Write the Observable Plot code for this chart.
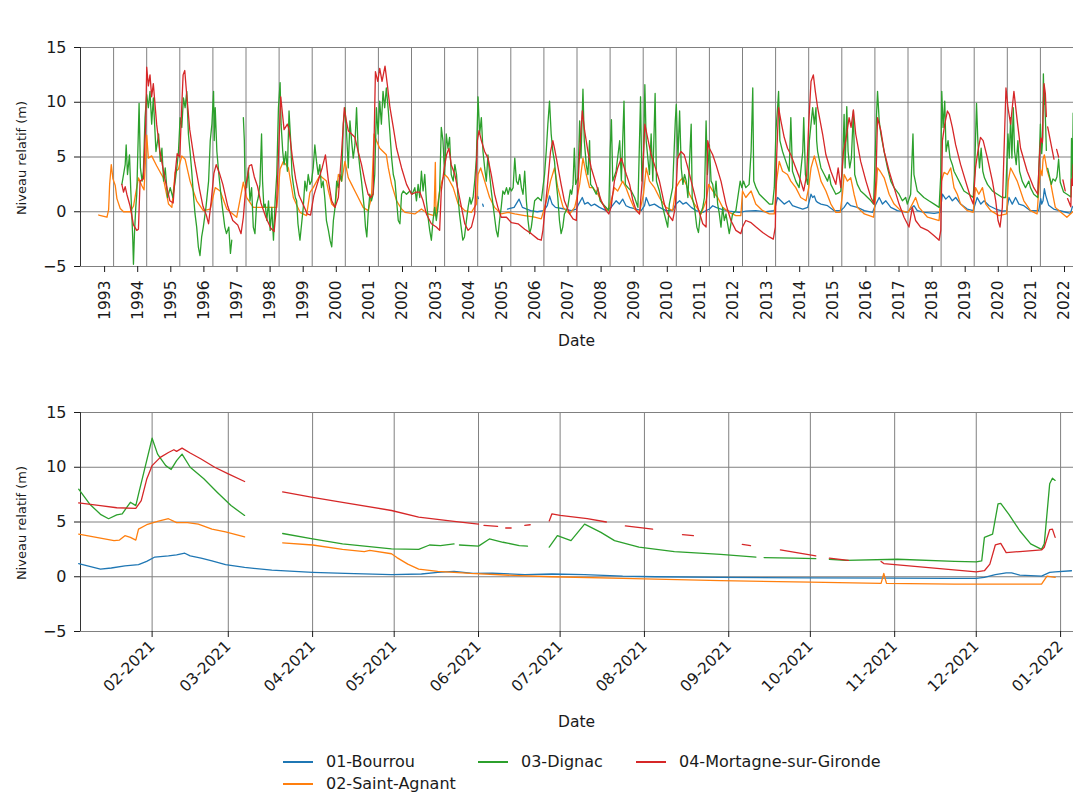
<!DOCTYPE html>
<html><head><meta charset="utf-8">
<script src="https://cdn.jsdelivr.net/npm/d3@7"></script>
<script src="https://cdn.jsdelivr.net/npm/@observablehq/plot@0.6"></script>
<style>
body{margin:0;background:#fff;overflow:hidden;font-family:"DejaVu Sans",sans-serif;color:#1a1a1a;}
#page{position:relative;width:1073px;height:794px;overflow:hidden;background:#fff;}
.abs{position:absolute;}
.title{position:absolute;left:80px;width:993px;text-align:center;font-size:20px;line-height:24px;}
.xlab{position:absolute;left:80px;width:993px;text-align:center;font-size:15.5px;line-height:18px;}
.ylab{position:absolute;font-size:13px;white-space:nowrap;transform:translate(-50%,-50%) rotate(-90deg);}
.leg{position:absolute;font-size:16px;line-height:18px;white-space:nowrap;}
.legline{position:absolute;width:30px;height:1.5px;}
</style>
</head><body>
<div id="page">
  <div class="title" style="top:10px">Chroniques des 30 dernières années</div>
  <div class="abs" id="top" style="left:0;top:0;width:1073px;height:345px;overflow:hidden"></div>
  <div class="xlab" style="top:332px">Date</div>
  <div class="ylab" style="left:21px;top:158px">Niveau relatif (m)</div>
  <div class="title" style="top:376px">Chroniques de la dernière année</div>
  <div class="abs" id="bottom" style="left:0;top:365px;width:1073px;height:345px;overflow:hidden"></div>
  <div class="xlab" style="top:713px">Date</div>
  <div class="ylab" style="left:21px;top:523px">Niveau relatif (m)</div>
  <div id="legend"></div>
</div>
<script>
const seriesNames = ["01-Bourrou", "02-Saint-Agnant", "03-Dignac", "04-Mortagne-sur-Gironde"];
const seriesColors = ["#1f77b4", "#ff7f0e", "#2ca02c", "#d62728"];
const yTicks = [-5, 0, 5, 10, 15];
const yearTicks = [1993,1994,1995,1996,1997,1998,1999,2000,2001,2002,2003,2004,2005,2006,2007,2008,2009,2010,2011,2012,2013,2014,2015,2016,2017,2018,2019,2020,2021,2022];
const monthTicks = ["2021-02-01","2021-03-01","2021-04-01","2021-05-01","2021-06-01","2021-07-01","2021-08-01","2021-09-01","2021-10-01","2021-11-01","2021-12-01","2022-01-01"];

// ---- 30 years: [decimal year, level (m)] ----
const bourrou30 = [[2004.0,1.4],[2004.02,1.2],[2004.03,null],[2004.15,0.7],[2004.17,0.5],[2004.18,null],
[2004.9,0.25],[2005.1,0.4],[2005.25,1.15],[2005.35,0.4],[2005.6,0.1],[2005.8,0.0],[2006.0,0.1],[2006.1,0.55],[2006.17,1.45],[2006.25,0.7],[2006.35,0.4],[2006.62,0.25],[2006.83,0.1],[2006.98,0.25],[2007.05,0.7],[2007.16,1.3],[2007.23,0.7],[2007.33,0.85],[2007.43,0.55],[2007.53,0.7],[2007.68,0.4],[2007.88,0.1],[2008.03,0.4],[2008.18,1.0],[2008.28,0.7],[2008.38,1.15],[2008.48,0.55],[2008.59,0.4],[2008.79,0.25],[2008.94,0.1],[2009.04,0.55],[2009.09,1.3],[2009.19,0.55],[2009.34,0.7],[2009.49,0.4],[2009.69,0.1],[2009.89,0.1],[2009.99,0.7],[2010.1,1.0],[2010.2,0.7],[2010.3,0.85],[2010.45,0.4],[2010.6,0.1],[2010.8,-0.05],[2011.0,0.25],[2011.1,0.55],[2011.2,0.4],[2011.35,0.25],[2011.6,0.05],[2011.9,-0.05],[2012.1,0.05],[2012.4,0.1],[2012.71,0.0],[2012.96,0.1],[2013.06,1.3],[2013.16,1.0],[2013.26,0.7],[2013.41,1.0],[2013.51,0.55],[2013.66,0.4],[2013.82,0.25],[2013.97,0.4],[2014.07,1.6],[2014.12,1.3],[2014.17,1.45],[2014.22,1.0],[2014.27,0.85],[2014.37,0.7],[2014.57,0.55],[2014.77,0.1],[2014.97,0.1],[2015.07,0.4],[2015.17,0.85],[2015.27,0.55],[2015.47,0.4],[2015.68,0.1],[2015.93,-0.05],[2016.03,0.7],[2016.13,1.3],[2016.23,0.7],[2016.33,1.0],[2016.48,0.4],[2016.68,0.1],[2016.98,-0.05],[2017.18,0.55],[2017.28,0.1],[2017.49,-0.05],[2017.79,-0.15],[2017.97,-0.05],[2018.04,1.6],[2018.14,1.15],[2018.24,1.45],[2018.34,1.0],[2018.44,1.3],[2018.59,0.7],[2018.79,0.25],[2018.97,0.1],[2019.09,1.3],[2019.2,0.7],[2019.3,1.0],[2019.45,0.55],[2019.65,0.25],[2019.85,0.05],[2019.98,0.1],[2020.05,1.3],[2020.15,0.7],[2020.25,1.3],[2020.35,0.7],[2020.5,0.55],[2020.7,0.1],[2020.95,0.1],[2021.01,1.2],[2021.04,0.7],[2021.08,1.0],[2021.12,2.1],[2021.16,1.5],[2021.25,0.6],[2021.4,0.25],[2021.71,0.0],[2021.91,-0.15],[2021.96,0.4],[2021.99,0.5]];

const saintAgnant30 = [[1992.55,-0.3],[1992.8,-0.5],[1992.85,0.2],[1992.88,2.5],[1992.93,4.3],[1992.98,3.0],[1993.05,2.4],[1993.1,1.2],[1993.2,0.3],[1993.3,0.0],[1993.5,0.0],[1993.6,0.5],[1993.75,3.1],[1993.85,2.4],[1993.92,2.0],[1994.0,7.0],[1994.05,4.9],[1994.15,5.1],[1994.3,4.2],[1994.5,3.1],[1994.66,0.7],[1994.76,0.4],[1994.86,3.6],[1994.96,3.9],[1995.06,5.1],[1995.16,4.8],[1995.31,2.8],[1995.51,1.0],[1995.71,0.1],[1995.92,0.25],[1996.07,2.2],[1996.22,1.9],[1996.42,0.25],[1996.72,-0.5],[1996.92,2.7],[1997.02,1.3],[1997.22,0.4],[1997.63,0.4],[1997.93,0.4],[1998.03,3.9],[1998.13,4.6],[1998.28,4.0],[1998.43,1.3],[1998.63,-0.05],[1998.83,-0.35],[1998.93,1.75],[1999.03,2.2],[1999.23,3.3],[1999.43,2.8],[1999.49,1.9],[1999.59,0.7],[1999.69,0.4],[1999.79,3.4],[1999.89,2.8],[1999.99,4.6],[2000.09,3.1],[2000.19,2.5],[2000.29,1.9],[2000.39,1.3],[2000.54,0.4],[2000.69,0.1],[2000.79,1.3],[2000.87,7.1],[2000.94,6.5],[2001.04,5.8],[2001.14,5.5],[2001.24,5.2],[2001.3,4.0],[2001.4,2.5],[2001.55,1.0],[2001.7,0.25],[2001.8,-0.05],[2002.1,-0.2],[2002.3,0.25],[2002.5,-0.2],[2002.68,-0.35],[2002.72,4.5],[2002.74,-0.3],[2002.78,0.4],[2002.85,1.9],[2002.92,2.8],[2003.0,3.4],[2003.1,3.1],[2003.26,2.2],[2003.41,0.7],[2003.61,0.1],[2003.81,-0.05],[2003.96,0.7],[2004.01,3.4],[2004.09,4.0],[2004.21,2.8],[2004.36,1.3],[2004.51,0.4],[2004.71,-0.2],[2004.92,-0.05],[2005.12,-0.2],[2005.42,-0.35],[2005.72,-0.5],[2005.92,-0.65],[2006.02,0.4],[2006.1,1.3],[2006.2,2.8],[2006.32,4.0],[2006.42,2.2],[2006.58,0.4],[2006.78,-0.2],[2006.93,0.4],[2007.0,1.3],[2007.08,2.5],[2007.18,4.9],[2007.28,3.4],[2007.38,2.2],[2007.48,2.2],[2007.63,1.6],[2007.78,0.7],[2007.93,0.1],[2008.03,1.0],[2008.13,2.2],[2008.23,1.9],[2008.38,2.8],[2008.48,2.2],[2008.59,1.3],[2008.74,0.25],[2008.89,-0.05],[2009.01,1.6],[2009.09,4.0],[2009.19,2.8],[2009.34,2.2],[2009.49,1.3],[2009.69,0.4],[2009.89,0.1],[2009.99,2.2],[2010.1,2.8],[2010.2,3.1],[2010.3,2.5],[2010.4,1.6],[2010.55,0.7],[2010.75,-0.2],[2010.9,1.0],[2010.98,2.5],[2011.1,1.9],[2011.25,1.3],[2011.4,0.4],[2011.6,-0.05],[2011.8,-0.35],[2011.95,-0.35],[2012.0,1.9],[2012.1,1.3],[2012.26,1.9],[2012.4,0.7],[2012.61,0.1],[2012.81,-0.2],[2012.96,-0.2],[2013.03,2.8],[2013.11,4.6],[2013.21,3.7],[2013.36,3.4],[2013.46,2.8],[2013.61,2.2],[2013.76,1.3],[2013.92,1.0],[2014.0,2.2],[2014.07,4.0],[2014.17,5.1],[2014.27,4.0],[2014.37,2.8],[2014.52,1.9],[2014.67,0.7],[2014.82,-0.05],[2014.95,-0.05],[2015.02,1.6],[2015.07,3.4],[2015.17,2.8],[2015.27,3.1],[2015.37,1.6],[2015.47,0.4],[2015.68,-0.2],[2015.96,-0.5],[2016.03,1.6],[2016.08,4.0],[2016.16,3.7],[2016.28,3.1],[2016.43,1.6],[2016.58,0.7],[2016.78,0.1],[2017.0,-0.05],[2017.13,0.7],[2017.23,1.3],[2017.33,0.4],[2017.59,-0.5],[2017.94,-0.8],[2018.01,2.8],[2018.09,3.6],[2018.19,3.4],[2018.29,4.0],[2018.39,2.2],[2018.49,1.6],[2018.59,0.7],[2018.79,0.1],[2018.97,-0.05],[2019.04,2.2],[2019.14,1.6],[2019.25,2.2],[2019.35,0.7],[2019.5,0.1],[2019.75,-0.35],[2019.98,-0.2],[2020.03,2.8],[2020.1,4.0],[2020.2,3.4],[2020.3,2.8],[2020.5,1.0],[2020.7,0.1],[2020.9,-0.2],[2020.95,2.0],[2021.0,3.9],[2021.05,3.3],[2021.08,4.8],[2021.12,5.2],[2021.2,3.8],[2021.3,2.8],[2021.38,1.5],[2021.45,0.4],[2021.6,0.0],[2021.8,-0.5],[2021.98,0.0]];

const dignac30 = [[1993.25,2.5],[1993.3,3.4],[1993.35,4.3],[1993.38,6.1],[1993.42,3.4],[1993.48,5.2],[1993.52,1.9],[1993.55,-0.2],[1993.58,-2.6],[1993.6,-4.8],[1993.63,-2.0],[1993.67,0.4],[1993.7,1.6],[1993.73,5.2],[1993.77,9.9],[1993.81,4.0],[1993.86,2.8],[1993.9,3.7],[1993.95,8.6],[1994.0,10.7],[1994.05,9.5],[1994.1,11.0],[1994.15,8.0],[1994.2,10.4],[1994.28,5.5],[1994.36,7.1],[1994.41,4.6],[1994.46,5.8],[1994.51,2.8],[1994.56,4.0],[1994.63,1.3],[1994.71,2.2],[1994.79,1.3],[1994.86,2.8],[1994.91,4.0],[1994.96,5.5],[1995.01,8.6],[1995.06,7.7],[1995.11,10.4],[1995.16,9.5],[1995.21,11.0],[1995.26,7.1],[1995.31,5.5],[1995.36,3.7],[1995.41,1.6],[1995.46,-0.2],[1995.51,-1.4],[1995.56,-3.2],[1995.61,-4.0],[1995.66,-2.3],[1995.71,-1.4],[1995.79,0.4],[1995.87,2.8],[1995.92,6.5],[1995.97,8.0],[1996.02,11.0],[1996.04,6.5],[1996.07,9.5],[1996.12,5.5],[1996.18,3.4],[1996.25,1.3],[1996.31,-0.2],[1996.36,-1.4],[1996.41,-2.0],[1996.48,-1.4],[1996.53,-3.8],[1996.57,-2.6],[1996.58,null],[1996.92,8.6],[1996.95,6.5],[1996.97,2.8],[1997.02,2.2],[1997.07,4.0],[1997.12,1.0],[1997.17,2.2],[1997.22,-1.4],[1997.27,-2.0],[1997.32,0.7],[1997.37,1.3],[1997.42,2.5],[1997.47,7.1],[1997.5,2.8],[1997.54,0.4],[1997.58,0.7],[1997.63,-0.8],[1997.68,1.0],[1997.73,-1.7],[1997.78,0.4],[1997.83,-2.6],[1997.88,1.0],[1997.93,3.4],[1997.98,9.5],[1998.03,11.8],[1998.06,8.0],[1998.11,5.5],[1998.15,4.3],[1998.2,5.5],[1998.25,3.7],[1998.3,9.2],[1998.35,6.5],[1998.39,3.4],[1998.43,2.5],[1998.49,1.3],[1998.53,1.0],[1998.57,-1.1],[1998.63,-2.6],[1998.68,-1.1],[1998.73,0.4],[1998.78,2.8],[1998.83,1.9],[1998.88,3.4],[1998.93,2.5],[1998.98,2.8],[1999.03,4.0],[1999.08,6.1],[1999.13,4.6],[1999.18,3.4],[1999.23,4.3],[1999.28,2.2],[1999.33,2.8],[1999.38,1.3],[1999.43,-0.8],[1999.49,-1.7],[1999.54,-2.6],[1999.59,-3.2],[1999.64,-0.8],[1999.69,0.4],[1999.74,2.8],[1999.79,2.2],[1999.84,3.4],[1999.89,2.8],[1999.94,8.0],[1999.99,9.5],[2000.04,7.1],[2000.09,4.0],[2000.14,8.3],[2000.19,6.5],[2000.24,4.9],[2000.29,6.1],[2000.34,9.5],[2000.39,5.5],[2000.44,4.0],[2000.49,2.8],[2000.54,1.3],[2000.57,0.4],[2000.61,-1.4],[2000.65,-2.3],[2000.69,-0.2],[2000.74,1.6],[2000.79,1.0],[2000.84,1.6],[2000.89,3.4],[2000.94,9.5],[2000.99,7.1],[2001.04,10.1],[2001.09,8.0],[2001.14,11.0],[2001.19,9.5],[2001.24,11.3],[2001.3,9.2],[2001.35,7.1],[2001.4,4.9],[2001.45,3.4],[2001.5,2.8],[2001.55,1.0],[2001.6,-0.8],[2001.65,-1.1],[2001.7,1.6],[2001.75,1.9],[2001.85,1.6],[2001.95,1.9],[2002.02,1.6],[2002.1,2.2],[2002.15,1.0],[2002.2,2.5],[2002.25,1.3],[2002.3,3.7],[2002.35,1.9],[2002.4,3.4],[2002.45,1.0],[2002.5,-0.5],[2002.55,-1.7],[2002.6,-2.6],[2002.65,-0.8],[2002.7,0.4],[2002.75,-0.8],[2002.8,0.4],[2002.85,1.9],[2002.9,7.7],[2002.95,6.5],[2003.0,3.4],[2003.05,7.1],[2003.1,5.8],[2003.15,6.8],[2003.2,3.4],[2003.26,2.8],[2003.31,4.3],[2003.36,3.4],[2003.4,1.6],[2003.45,-0.2],[2003.5,-1.4],[2003.55,-2.6],[2003.6,-2.3],[2003.66,-0.8],[2003.71,0.4],[2003.76,1.3],[2003.8,0.7],[2003.86,1.3],[2003.91,2.8],[2003.96,4.9],[2004.01,10.5],[2004.06,7.1],[2004.11,8.6],[2004.16,5.5],[2004.21,4.0],[2004.26,2.8],[2004.31,5.2],[2004.36,3.4],[2004.41,1.9],[2004.46,0.7],[2004.51,-0.5],[2004.56,-1.7],[2004.61,-2.3],[2004.66,-0.8],[2004.71,0.4],[2004.76,1.9],[2004.81,1.6],[2004.87,2.2],[2004.92,1.6],[2004.97,2.2],[2005.02,1.9],[2005.07,2.2],[2005.12,4.9],[2005.17,2.8],[2005.22,2.5],[2005.27,3.4],[2005.32,2.2],[2005.37,1.6],[2005.42,3.7],[2005.47,1.0],[2005.52,-0.8],[2005.57,-2.0],[2005.62,-1.4],[2005.67,-0.2],[2005.72,1.0],[2005.82,1.3],[2005.92,1.0],[2005.97,2.2],[2006.02,3.4],[2006.07,5.5],[2006.12,8.0],[2006.17,10.1],[2006.22,7.1],[2006.27,5.5],[2006.32,4.6],[2006.37,2.8],[2006.42,1.3],[2006.47,-0.8],[2006.52,-2.0],[2006.57,-1.4],[2006.62,-0.2],[2006.72,0.4],[2006.8,2.0],[2006.84,1.6],[2006.88,2.5],[2006.92,5.8],[2006.96,2.5],[2007.03,3.1],[2007.08,8.3],[2007.12,4.9],[2007.18,11.2],[2007.22,6.5],[2007.28,4.3],[2007.33,3.4],[2007.38,6.5],[2007.41,2.5],[2007.48,2.2],[2007.58,1.6],[2007.63,2.2],[2007.7,1.0],[2007.78,0.7],[2007.88,0.4],[2007.96,0.1],[2008.0,5.5],[2008.04,8.4],[2008.08,2.8],[2008.18,3.7],[2008.29,6.5],[2008.34,2.8],[2008.42,10.1],[2008.46,2.5],[2008.54,2.2],[2008.64,1.9],[2008.74,1.3],[2008.84,0.4],[2008.92,10.5],[2008.96,2.8],[2009.01,4.9],[2009.05,11.6],[2009.09,6.5],[2009.14,4.9],[2009.19,3.4],[2009.24,7.1],[2009.29,2.8],[2009.36,10.8],[2009.4,2.8],[2009.49,1.9],[2009.59,0.4],[2009.69,-0.8],[2009.74,-1.4],[2009.79,0.7],[2009.89,2.2],[2009.97,8.3],[2010.0,9.8],[2010.05,4.9],[2010.1,9.2],[2010.15,4.0],[2010.2,2.5],[2010.25,3.4],[2010.3,2.8],[2010.35,1.3],[2010.45,8.0],[2010.48,1.3],[2010.55,0.4],[2010.62,-1.4],[2010.67,-1.9],[2010.73,-0.2],[2010.8,0.4],[2010.85,1.3],[2010.9,8.3],[2010.94,3.4],[2011.0,6.1],[2011.05,2.8],[2011.1,2.5],[2011.15,1.3],[2011.2,2.8],[2011.25,0.7],[2011.3,-0.2],[2011.35,-1.4],[2011.4,0.4],[2011.45,-0.8],[2011.5,-0.2],[2011.55,-1.1],[2011.6,-2.0],[2011.7,-0.2],[2011.8,0.1],[2011.93,2.8],[2011.98,2.2],[2012.03,2.8],[2012.1,2.2],[2012.2,2.5],[2012.26,5.5],[2012.31,11.3],[2012.34,2.8],[2012.41,2.2],[2012.51,1.6],[2012.61,1.3],[2012.71,1.0],[2012.81,0.7],[2012.91,0.7],[2012.96,2.2],[2013.01,7.4],[2013.06,9.5],[2013.09,11.0],[2013.13,6.5],[2013.21,5.5],[2013.31,4.6],[2013.41,3.7],[2013.46,8.6],[2013.51,3.7],[2013.61,2.8],[2013.71,2.2],[2013.82,5.5],[2013.85,8.6],[2013.9,3.4],[2013.97,2.5],[2014.02,6.5],[2014.07,8.0],[2014.12,9.5],[2014.17,8.0],[2014.22,9.5],[2014.24,6.5],[2014.27,5.5],[2014.37,4.0],[2014.47,3.4],[2014.57,2.8],[2014.62,3.4],[2014.67,2.5],[2014.77,1.9],[2014.82,1.6],[2014.92,1.75],[2014.97,1.9],[2015.02,4.0],[2015.07,8.9],[2015.1,4.0],[2015.15,9.6],[2015.19,5.5],[2015.24,4.0],[2015.29,4.9],[2015.35,9.2],[2015.39,3.4],[2015.47,2.5],[2015.57,1.9],[2015.68,1.6],[2015.78,1.3],[2015.88,1.0],[2015.96,0.7],[2016.01,5.2],[2016.05,8.9],[2016.08,11.0],[2016.13,8.3],[2016.18,7.1],[2016.28,5.5],[2016.38,4.0],[2016.48,2.8],[2016.58,2.2],[2016.73,1.6],[2016.83,1.0],[2016.93,1.3],[2016.98,0.7],[2017.08,1.6],[2017.15,7.1],[2017.18,3.4],[2017.28,1.9],[2017.38,1.6],[2017.48,1.3],[2017.63,1.0],[2017.79,0.7],[2017.94,0.4],[2017.99,3.4],[2018.02,11.0],[2018.06,7.7],[2018.11,10.1],[2018.15,5.5],[2018.21,6.5],[2018.27,4.9],[2018.34,4.3],[2018.39,3.7],[2018.49,3.1],[2018.59,2.5],[2018.69,1.9],[2018.84,1.6],[2018.97,1.3],[2019.01,3.4],[2019.07,9.9],[2019.11,6.5],[2019.16,4.0],[2019.21,5.8],[2019.26,3.7],[2019.31,3.1],[2019.4,2.5],[2019.55,1.9],[2019.7,1.6],[2019.85,1.3],[2019.95,1.3],[2019.98,4.0],[2020.02,7.1],[2020.06,4.9],[2020.1,8.6],[2020.14,4.9],[2020.18,9.5],[2020.22,5.5],[2020.27,4.3],[2020.32,6.5],[2020.37,3.7],[2020.45,2.8],[2020.55,2.2],[2020.65,2.8],[2020.7,2.2],[2020.8,1.6],[2020.92,1.3],[2020.97,5.2],[2021.0,8.0],[2021.04,5.3],[2021.07,6.8],[2021.09,12.6],[2021.11,9.8],[2021.12,11.2],[2021.16,7.7],[2021.18,5.6],[2021.19,null],[2021.22,3.95],[2021.33,2.5],[2021.38,3.0],[2021.45,2.8],[2021.5,3.2],[2021.55,4.8],[2021.6,2.7],[2021.7,1.8],[2021.85,1.5],[2021.92,1.35],[2021.94,6.7],[2021.97,3.0],[2021.99,9.0]];

const mortagne30 = [[1993.25,2.5],[1993.3,1.8],[1993.35,2.3],[1993.4,1.6],[1993.5,0.5],[1993.6,-1.2],[1993.7,-1.7],[1993.75,-1.6],[1993.8,2.8],[1993.9,3.0],[1993.97,8.0],[1994.0,13.2],[1994.05,11.5],[1994.1,12.5],[1994.15,10.5],[1994.2,11.7],[1994.3,8.0],[1994.4,5.5],[1994.55,3.0],[1994.7,1.0],[1994.8,0.8],[1994.86,3.5],[1994.92,5.3],[1995.0,5.0],[1995.05,9.0],[1995.1,12.5],[1995.15,12.9],[1995.2,11.0],[1995.3,7.5],[1995.45,4.5],[1995.6,2.0],[1995.7,0.5],[1995.8,-0.3],[1995.87,-1.1],[1995.95,1.0],[1996.03,3.5],[1996.1,4.3],[1996.2,3.5],[1996.3,2.5],[1996.45,0.5],[1996.6,-0.8],[1996.75,-1.2],[1996.85,-2.0],[1996.92,-0.5],[1997.0,2.5],[1997.1,4.2],[1997.17,4.3],[1997.25,3.2],[1997.35,2.3],[1997.45,0.8],[1997.6,-0.5],[1997.75,-1.5],[1997.85,-1.8],[1997.92,0.5],[1997.98,5.0],[1998.05,10.5],[1998.1,9.0],[1998.15,7.5],[1998.25,8.0],[1998.3,7.5],[1998.4,5.0],[1998.5,3.0],[1998.6,1.5],[1998.75,0.5],[1998.85,-0.2],[1998.95,-0.3],[1999.05,1.5],[1999.15,2.5],[1999.3,4.0],[1999.4,5.2],[1999.49,2.8],[1999.59,1.0],[1999.69,0.4],[1999.79,1.3],[1999.89,5.5],[1999.97,9.5],[2000.03,8.3],[2000.09,7.4],[2000.19,7.1],[2000.29,6.8],[2000.39,5.5],[2000.49,4.3],[2000.59,2.8],[2000.69,1.6],[2000.77,1.3],[2000.84,1.6],[2000.87,6.5],[2000.91,12.8],[2000.98,11.9],[2001.04,13.1],[2001.11,11.9],[2001.2,13.3],[2001.27,11.6],[2001.35,9.5],[2001.45,7.7],[2001.55,5.8],[2001.7,4.0],[2001.85,2.5],[2002.0,1.6],[2002.15,1.8],[2002.25,1.8],[2002.35,1.0],[2002.45,-0.2],[2002.6,-1.1],[2002.75,-1.4],[2002.85,-1.7],[2002.9,1.9],[2002.99,4.0],[2003.06,5.2],[2003.13,5.8],[2003.2,4.3],[2003.31,3.4],[2003.41,1.9],[2003.51,0.4],[2003.61,-1.1],[2003.71,-1.7],[2003.81,-1.4],[2003.91,-0.2],[2003.99,6.5],[2004.04,7.4],[2004.11,6.5],[2004.21,5.5],[2004.31,4.9],[2004.41,3.4],[2004.51,1.6],[2004.61,0.4],[2004.71,-0.5],[2004.87,-0.5],[2005.02,-1.0],[2005.22,-1.1],[2005.42,-1.6],[2005.62,-2.0],[2005.82,-2.5],[2005.92,-2.6],[2005.97,-1.7],[2006.02,-0.2],[2006.12,2.8],[2006.2,5.5],[2006.27,6.5],[2006.32,5.8],[2006.43,4.0],[2006.52,2.5],[2006.62,1.0],[2006.78,-0.2],[2006.88,-0.65],[2006.98,-0.8],[2007.03,2.5],[2007.1,6.5],[2007.16,9.2],[2007.23,7.4],[2007.33,5.5],[2007.43,4.0],[2007.58,2.5],[2007.73,1.0],[2007.88,0.1],[2007.96,-0.2],[2008.03,0.4],[2008.13,2.8],[2008.23,4.0],[2008.34,4.9],[2008.4,4.3],[2008.49,3.4],[2008.59,2.5],[2008.69,1.0],[2008.79,0.1],[2008.89,-0.2],[2008.97,2.8],[2009.05,8.0],[2009.11,7.1],[2009.24,5.2],[2009.34,4.3],[2009.49,2.8],[2009.64,0.7],[2009.74,-0.2],[2009.89,-0.8],[2009.97,0.4],[2010.04,4.9],[2010.14,5.5],[2010.24,5.2],[2010.35,4.0],[2010.5,2.2],[2010.65,0.4],[2010.8,-1.1],[2010.9,-1.4],[2010.95,6.5],[2011.0,5.8],[2011.1,5.2],[2011.2,4.3],[2011.35,2.8],[2011.5,0.7],[2011.65,-0.8],[2011.8,-1.7],[2011.95,-2.0],[2012.0,-1.4],[2012.1,-0.8],[2012.26,-1.0],[2012.41,-1.4],[2012.61,-1.9],[2012.81,-2.3],[2012.93,-2.5],[2012.99,-1.4],[2013.03,4.9],[2013.09,9.5],[2013.16,8.3],[2013.26,6.8],[2013.36,5.8],[2013.46,5.2],[2013.61,4.0],[2013.76,2.8],[2013.85,1.9],[2013.94,3.4],[2014.0,8.0],[2014.07,11.9],[2014.14,12.5],[2014.2,11.0],[2014.27,9.5],[2014.42,7.1],[2014.52,5.2],[2014.67,3.7],[2014.82,2.5],[2014.89,4.0],[2014.97,2.2],[2015.05,5.5],[2015.12,6.5],[2015.22,8.6],[2015.28,7.7],[2015.35,9.3],[2015.42,7.1],[2015.57,4.6],[2015.73,2.8],[2015.88,1.3],[2015.98,0.7],[2016.03,2.8],[2016.08,8.6],[2016.13,8.0],[2016.18,7.4],[2016.28,5.5],[2016.43,3.7],[2016.58,2.2],[2016.73,0.7],[2016.88,-0.5],[2017.03,-1.4],[2017.13,0.4],[2017.23,-0.8],[2017.38,-1.4],[2017.59,-1.7],[2017.79,-2.2],[2017.94,-2.6],[2017.99,-1.7],[2018.04,6.5],[2018.11,8.0],[2018.19,9.2],[2018.25,8.9],[2018.34,7.7],[2018.44,6.1],[2018.59,4.3],[2018.74,2.8],[2018.89,1.3],[2018.97,0.7],[2019.04,4.0],[2019.11,5.5],[2019.19,6.8],[2019.27,6.5],[2019.4,4.9],[2019.55,2.8],[2019.65,1.0],[2019.72,-0.8],[2019.78,-1.4],[2019.85,0.4],[2019.92,7.4],[2019.96,11.3],[2020.02,9.5],[2020.1,8.0],[2020.2,11.0],[2020.3,8.3],[2020.4,5.8],[2020.6,3.7],[2020.8,2.2],[2020.92,1.6],[2020.97,5.0],[2021.01,6.75],[2021.06,6.3],[2021.08,8.9],[2021.11,11.7],[2021.15,10.8],[2021.18,8.7],[2021.19,null],[2021.22,7.75],[2021.33,6.05],[2021.41,4.8],[2021.42,null],[2021.49,5.7],[2021.55,5.0],[2021.56,null],[2021.68,2.9],[2021.75,1.9],[2021.77,null],[2021.82,1.2],[2021.92,0.45],[2021.94,3.0],[2021.97,2.4],[2021.99,4.3]];

// ---- last year: [date, level (m)] ----
const bourrouLast = [["2021-01-05",1.2],["2021-01-09",0.95],["2021-01-13",0.7],["2021-01-17",0.8],["2021-01-22",1.0],["2021-01-27",1.1],["2021-01-30",1.4],["2021-02-02",1.8],["2021-02-07",1.9],["2021-02-10",2.0],["2021-02-13",2.15],["2021-02-15",1.9],["2021-02-19",1.7],["2021-02-23",1.45],["2021-02-28",1.1],["2021-03-07",0.85],["2021-03-17",0.6],["2021-04-01",0.4],["2021-04-13",0.3],["2021-04-30",0.2],["2021-05-11",0.25],["2021-05-17",0.4],["2021-05-23",0.5],["2021-05-30",0.3],["2021-06-06",0.33],["2021-06-18",0.2],["2021-06-28",0.25],["2021-07-10",0.2],["2021-07-24",0.05],["2021-08-05",0.0],["2021-08-29",-0.05],["2021-09-30",-0.1],["2021-10-31",-0.12],["2021-11-20",-0.15],["2021-12-01",-0.15],["2021-12-04",-0.05],["2021-12-08",0.2],["2021-12-12",0.35],["2021-12-14",0.35],["2021-12-17",0.15],["2021-12-25",0.05],["2021-12-28",0.4],["2021-12-30",0.45],["2022-01-05",0.55]];

const saintAgnantLast = [["2021-01-05",3.9],["2021-01-18",3.3],["2021-01-20",3.35],["2021-01-22",3.75],["2021-01-24",3.6],["2021-01-26",3.35],["2021-01-27",4.35],["2021-01-30",4.75],["2021-02-03",5.05],["2021-02-07",5.3],["2021-02-10",4.95],["2021-02-14",4.95],["2021-02-18",4.8],["2021-02-23",4.35],["2021-02-28",4.1],["2021-03-07",3.65],["2021-03-08",null],["2021-03-21",3.1],["2021-04-01",2.9],["2021-04-12",2.5],["2021-04-20",2.3],["2021-04-22",2.4],["2021-04-30",2.1],["2021-05-02",1.75],["2021-05-06",1.15],["2021-05-10",0.7],["2021-05-17",0.5],["2021-05-29",0.3],["2021-06-16",0.1],["2021-06-28",0.0],["2021-07-24",-0.15],["2021-08-29",-0.35],["2021-10-01",-0.5],["2021-10-27",-0.6],["2021-10-28",0.3],["2021-10-29",-0.6],["2021-11-23",-0.67],["2021-12-25",-0.67],["2021-12-27",0.05],["2021-12-30",-0.05]];

const dignacLast = [["2021-01-05",8.0],["2021-01-09",6.65],["2021-01-13",5.7],["2021-01-16",5.3],["2021-01-19",5.65],["2021-01-21",5.75],["2021-01-24",6.8],["2021-01-26",6.5],["2021-01-27",7.55],["2021-01-30",10.6],["2021-02-01",12.65],["2021-02-03",11.2],["2021-02-06",10.15],["2021-02-08",9.8],["2021-02-10",10.6],["2021-02-12",11.2],["2021-02-15",10.0],["2021-02-20",8.95],["2021-02-25",7.7],["2021-03-02",6.5],["2021-03-07",5.6],["2021-03-08",null],["2021-03-21",3.95],["2021-04-01",3.45],["2021-04-12",3.0],["2021-04-30",2.55],["2021-05-10",2.5],["2021-05-14",2.9],["2021-05-18",2.85],["2021-05-23",3.0],["2021-05-24",null],["2021-05-25",2.9],["2021-06-01",2.8],["2021-06-05",3.45],["2021-06-10",3.15],["2021-06-16",2.85],["2021-06-19",2.8],["2021-06-20",null],["2021-06-27",2.7],["2021-06-30",3.75],["2021-07-05",3.3],["2021-07-10",4.8],["2021-07-16",4.05],["2021-07-21",3.3],["2021-07-30",2.7],["2021-08-12",2.3],["2021-08-29",2.05],["2021-09-11",1.8],["2021-09-12",null],["2021-09-14",1.75],["2021-09-25",1.7],["2021-10-03",1.65],["2021-10-04",null],["2021-10-08",1.6],["2021-10-14",1.5],["2021-11-02",1.6],["2021-11-23",1.4],["2021-12-01",1.35],["2021-12-03",1.45],["2021-12-04",3.6],["2021-12-07",3.9],["2021-12-09",6.65],["2021-12-10",6.7],["2021-12-13",5.7],["2021-12-17",4.2],["2021-12-21",3.0],["2021-12-25",2.5],["2021-12-26",3.0],["2021-12-28",8.5],["2021-12-29",9.0],["2021-12-30",8.8]];

const mortagneLast = [["2021-01-05",6.75],["2021-01-13",6.5],["2021-01-19",6.3],["2021-01-26",6.25],["2021-01-28",6.95],["2021-01-30",8.9],["2021-02-01",10.15],["2021-02-04",10.9],["2021-02-07",11.35],["2021-02-09",11.6],["2021-02-10",11.45],["2021-02-12",11.75],["2021-02-15",11.3],["2021-02-19",10.75],["2021-02-24",10.0],["2021-03-01",9.4],["2021-03-07",8.7],["2021-03-08",null],["2021-03-21",7.75],["2021-04-01",7.25],["2021-04-12",6.8],["2021-04-30",6.05],["2021-05-10",5.45],["2021-05-23",5.05],["2021-06-01",4.8],["2021-06-02",null],["2021-06-03",4.7],["2021-06-08",4.6],["2021-06-09",null],["2021-06-11",4.45],["2021-06-13",4.45],["2021-06-14",null],["2021-06-18",4.7],["2021-06-20",4.75],["2021-06-21",null],["2021-06-27",5.1],["2021-06-28",5.75],["2021-07-01",5.6],["2021-07-11",5.3],["2021-07-18",5.0],["2021-07-19",null],["2021-07-25",4.65],["2021-08-04",4.35],["2021-08-05",null],["2021-08-15",3.85],["2021-08-19",3.75],["2021-08-20",null],["2021-09-06",2.95],["2021-09-09",2.85],["2021-09-10",null],["2021-09-20",2.45],["2021-10-03",1.9],["2021-10-04",null],["2021-10-08",1.7],["2021-10-15",1.5],["2021-10-16",null],["2021-10-27",1.4],["2021-10-28",1.2],["2021-12-01",0.45],["2021-12-04",0.55],["2021-12-06",1.15],["2021-12-08",2.9],["2021-12-10",3.05],["2021-12-12",2.2],["2021-12-17",2.3],["2021-12-25",2.45],["2021-12-26",2.7],["2021-12-28",4.3],["2021-12-29",4.35],["2021-12-30",3.6]];

const thirtyYears = [bourrou30, saintAgnant30, dignac30, mortagne30];
const lastYear = [bourrouLast, saintAgnantLast, dignacLast, mortagneLast];

const fmtY = d => d < 0 ? "\u2212" + Math.abs(d) : String(d);
const gridColor = "#808080";
const baseStyle = {fontFamily: "'DejaVu Sans', sans-serif", fontSize: "16px", color: "#1a1a1a", background: "#fff", overflow: "visible"};

const topPlot = Plot.plot({
  width: 1073, height: 345,
  marginLeft: 80, marginRight: 0, marginTop: 47, marginBottom: 79,
  style: baseStyle,
  x: {type: "linear", domain: [1992, 2022], label: null},
  y: {domain: [-5, 15], label: null},
  marks: [
    Plot.ruleY(yTicks, {stroke: gridColor, strokeWidth: 1}),
    Plot.ruleX(yearTicks, {stroke: gridColor, strokeWidth: 1}),
    Plot.ruleX([1992], {stroke: "#333", strokeWidth: 1}),
    ...thirtyYears.map((s, i) => Plot.line(s, {x: d => d[0], y: d => d[1], stroke: seriesColors[i], strokeWidth: 1.3})),
    Plot.axisY({ticks: yTicks, tickFormat: fmtY, tickSize: 6, tickPadding: 8, fontSize: 16}),
    Plot.axisX({ticks: yearTicks, tickFormat: d => String(d), tickSize: 6, tickRotate: -90, tickPadding: 8, fontSize: 15.5, dx: -9})
  ]
});
document.getElementById("top").appendChild(topPlot);

const botPlot = Plot.plot({
  width: 1073, height: 345,
  marginLeft: 80, marginRight: 0, marginTop: 47, marginBottom: 79,
  style: baseStyle,
  x: {type: "utc", domain: [new Date("2021-01-05T16:00:00Z"), new Date("2022-01-05T18:00:00Z")], label: null},
  y: {domain: [-5, 15], label: null},
  marks: [
    Plot.ruleY(yTicks, {stroke: gridColor, strokeWidth: 1}),
    Plot.ruleX(monthTicks.map(d => new Date(d)), {stroke: gridColor, strokeWidth: 1}),
    Plot.ruleX([new Date("2021-01-05T16:00:00Z")], {stroke: "#333", strokeWidth: 1}),
    ...lastYear.map((s, i) => Plot.line(s, {x: d => new Date(d[0]), y: d => d[1], stroke: seriesColors[i], strokeWidth: 1.3})),
    Plot.axisY({ticks: yTicks, tickFormat: fmtY, tickSize: 6, tickPadding: 8, fontSize: 16}),
    Plot.axisX({ticks: monthTicks.map(d => new Date(d)), tickFormat: d3.utcFormat("%m-%Y"), tickSize: 6, tickRotate: -45, tickPadding: 6, fontSize: 15.5})
  ]
});
document.getElementById("bottom").appendChild(botPlot);

// legend (column-major, 3 columns)
const legendPos = [[283, 762], [283, 784], [478, 762], [636, 762]];
const legend = document.getElementById("legend");
seriesNames.forEach((name, i) => {
  const [lx, ly] = legendPos[i];
  const line = document.createElement("div");
  line.className = "legline";
  line.style.left = lx + "px"; line.style.top = (ly - 1) + "px";
  line.style.background = seriesColors[i];
  legend.appendChild(line);
  const t = document.createElement("div");
  t.className = "leg";
  t.style.left = (lx + 43) + "px"; t.style.top = (ly - 9) + "px";
  t.textContent = name;
  legend.appendChild(t);
});
</script>
</body></html>
